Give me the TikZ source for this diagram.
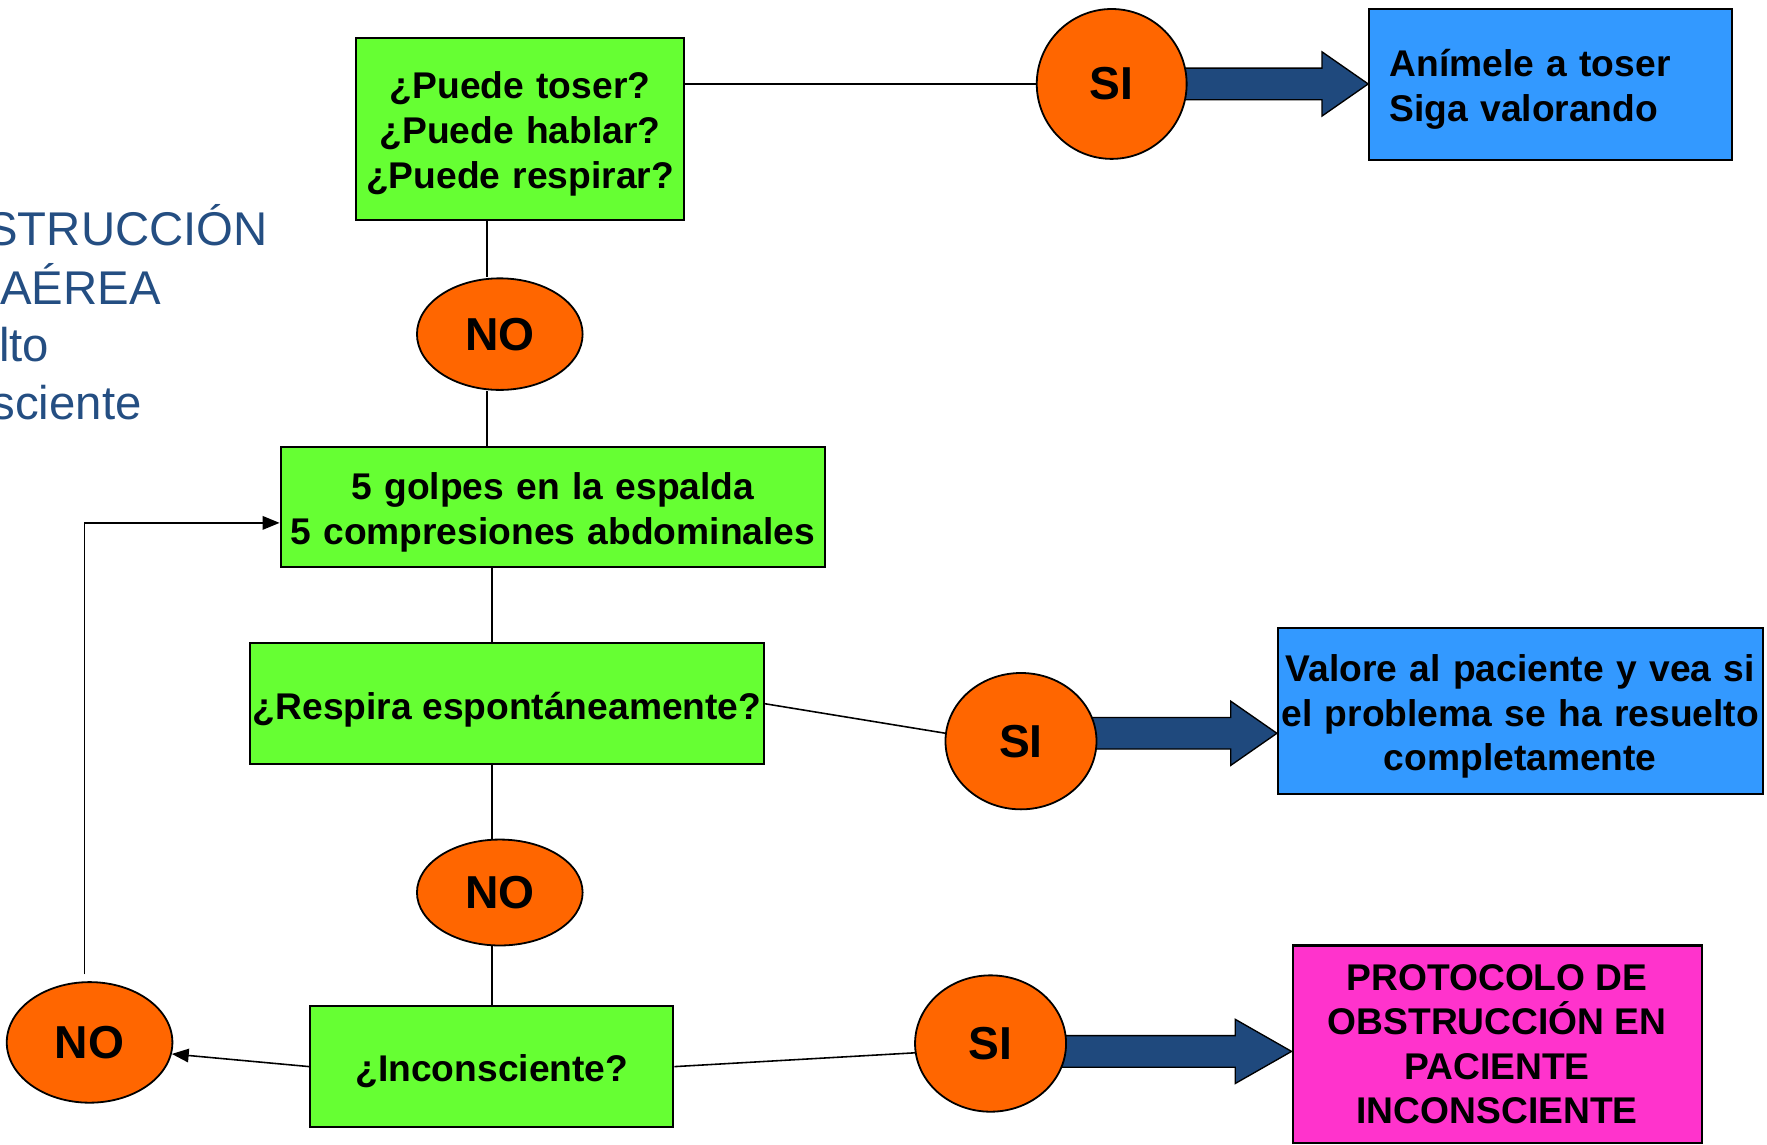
\documentclass[tikz,border=0pt]{standalone}
\usepackage{fontspec}
\setmainfont{Liberation Sans}
\usetikzlibrary{shapes.geometric,arrows.meta,calc}
\pgfdeclarelayer{background}
\pgfsetlayers{background,main}

\definecolor{qgreen}{HTML}{66FF33}
\definecolor{qorange}{HTML}{FF6600}
\definecolor{qblue}{HTML}{3399FF}
\definecolor{qpink}{HTML}{FF33CC}
\definecolor{qnavy}{HTML}{1F497D}
\definecolor{titleblue}{RGB}{36,78,130}

% broad horizontal block arrow: start point, tip (its x is used), head length
\newcommand\fatarrow[3]{%
  \draw[fatarr] let \p1=(#1), \p2=(#2) in
    (\x1,\y1+7pt) -- (\x2-#3,\y1+7pt) -- (\x2-#3,\y1+14.25pt) -- (\x2,\y1)
    -- (\x2-#3,\y1-14.25pt) -- (\x2-#3,\y1-7pt) -- (\x1,\y1-7pt) -- cycle;}

\tikzset{
  topstrut/.style={execute at begin node={\rule{0pt}{#1}}},
  question/.style={draw=black, line width=0.9pt, fill=qgreen, rectangle,
    inner sep=0pt, align=center, font=\bfseries\fontsize{16.5}{20}\selectfont,
    topstrut=16pt},
  answer/.style={draw=black, line width=0.9pt, rectangle, inner sep=0pt,
    font=\bfseries\fontsize{16.5}{19.75}\selectfont},
  yesno/.style={draw=black, line width=0.8pt, fill=qorange, ellipse, inner sep=0pt,
    font=\bfseries\fontsize{20.5}{24}\selectfont},
  link/.style={draw=black, line width=0.7pt},
  flow/.style={link, -{Triangle[length=7.5pt,width=6pt]}},
  fatarr/.style={draw=black, line width=0.6pt, fill=qnavy},
  title/.style={text=titleblue, font=\fontsize{21}{25}\selectfont, anchor=base east, inner sep=0pt}
}

\begin{document}
\begin{tikzpicture}[x=0.5pt,y=-0.5pt]
\useasboundingbox (0,0) rectangle (1568,1016);

% heading at the left edge
\begin{scope}
  \clip (0,0) rectangle (1568,1016);
  \node[title] (t1) at (238,218) {STRUCCIÓN};
  \node[title] (t2) at (143,270) {AÉREA};
  \node[title] (t3) at (44,321) {lto};
  \node[title] (t4) at (126,372) {sciente};
\end{scope}

% questions
\node[question, minimum width=145.5pt, minimum height=80.5pt, text width=142pt,
      topstrut=16.5pt] (q1) at (461.5,114.5)
  {¿Puede toser?\\¿Puede hablar?\\¿Puede respirar?};
\node[question, minimum width=241.5pt, minimum height=53pt, text width=238pt,
      topstrut=17pt] (act) at (490.5,450)
  {5 golpes en la espalda\\5 compresiones abdominales};
\node[question, minimum width=228pt, minimum height=53.5pt, topstrut=17pt] (q2) at (450,624.5)
  {¿Respira espontáneamente?};
\node[question, minimum width=161pt, minimum height=53.5pt, topstrut=15pt] (q3) at (436.5,946.5)
  {¿Inconsciente?};

% answers
\node[yesno, minimum width=66.5pt, minimum height=66.5pt] (si1) at (986.5,74.5) {SI};
\node[yesno, minimum width=73.5pt, minimum height=49.5pt] (no1) at (443.5,296.5) {NO};
\node[yesno, minimum width=67pt, minimum height=60.5pt] (si2) at (906,657.7) {SI};
\node[yesno, minimum width=73.5pt, minimum height=47pt] (no2) at (443.5,792) {NO};
\node[yesno, minimum width=67pt, minimum height=60.5pt] (si3) at (879,926) {SI};
\node[yesno, minimum width=73.5pt, minimum height=53.5pt] (no3) at (79.5,925) {NO};

% outcomes
\node[answer, fill=qblue, minimum width=161pt, minimum height=67pt,
      text width=143pt, align=left, topstrut=16.5pt] (r1) at (1376,75)
  {Anímele a toser\\Siga valorando};
\node[answer, fill=qblue, minimum width=215pt, minimum height=74pt, text width=212pt,
      align=center, topstrut=17pt] (r2) at (1349,631)
  {Valore al paciente y vea si\\el problema se ha resuelto\\completamente};
\node[answer, fill=qpink, minimum width=181.5pt, minimum height=87.5pt, align=center] (r3) at (1328.5,926.5)
  {PROTOCOLO DE\\OBSTRUCCIÓN EN\\PACIENTE\\INCONSCIENTE};

\coordinate (col1) at (432,0);

% connectors
\draw[link] (q1.east |- si1.west) -- (si1.west);
\draw[link] (q1.south -| col1) -- (no1.north -| col1);
\draw[link] (no1.south -| col1) -- (act.north -| col1);
\draw[link] (act.south -| q3.north) -- (q2.north -| q3.north);
\draw[link] (q2.south -| q3.north) -- (no2.north -| q3.north);
\draw[link] (no2.south -| q3.north) -- (q3.north);
\draw[link] (q2.east) -- (si2.174);
\draw[link] (q3.east) -- (si3.187);
\draw[flow] (q3.west) -- (no3.-8);
\draw[flow, shorten <=3pt] ($(no3.north)+(-4.5,0)$) |- ($(act.west)+(0,14)$);

\begin{pgfonlayer}{background}
  \fatarrow{si1.center}{r1.west}{20.5pt}
  \fatarrow{$(si2.center)+(0,-7)$}{r2.west}{20.5pt}
  \fatarrow{$(si3.center)+(0,7)$}{r3.west}{25pt}
\end{pgfonlayer}
\end{tikzpicture}
\end{document}
